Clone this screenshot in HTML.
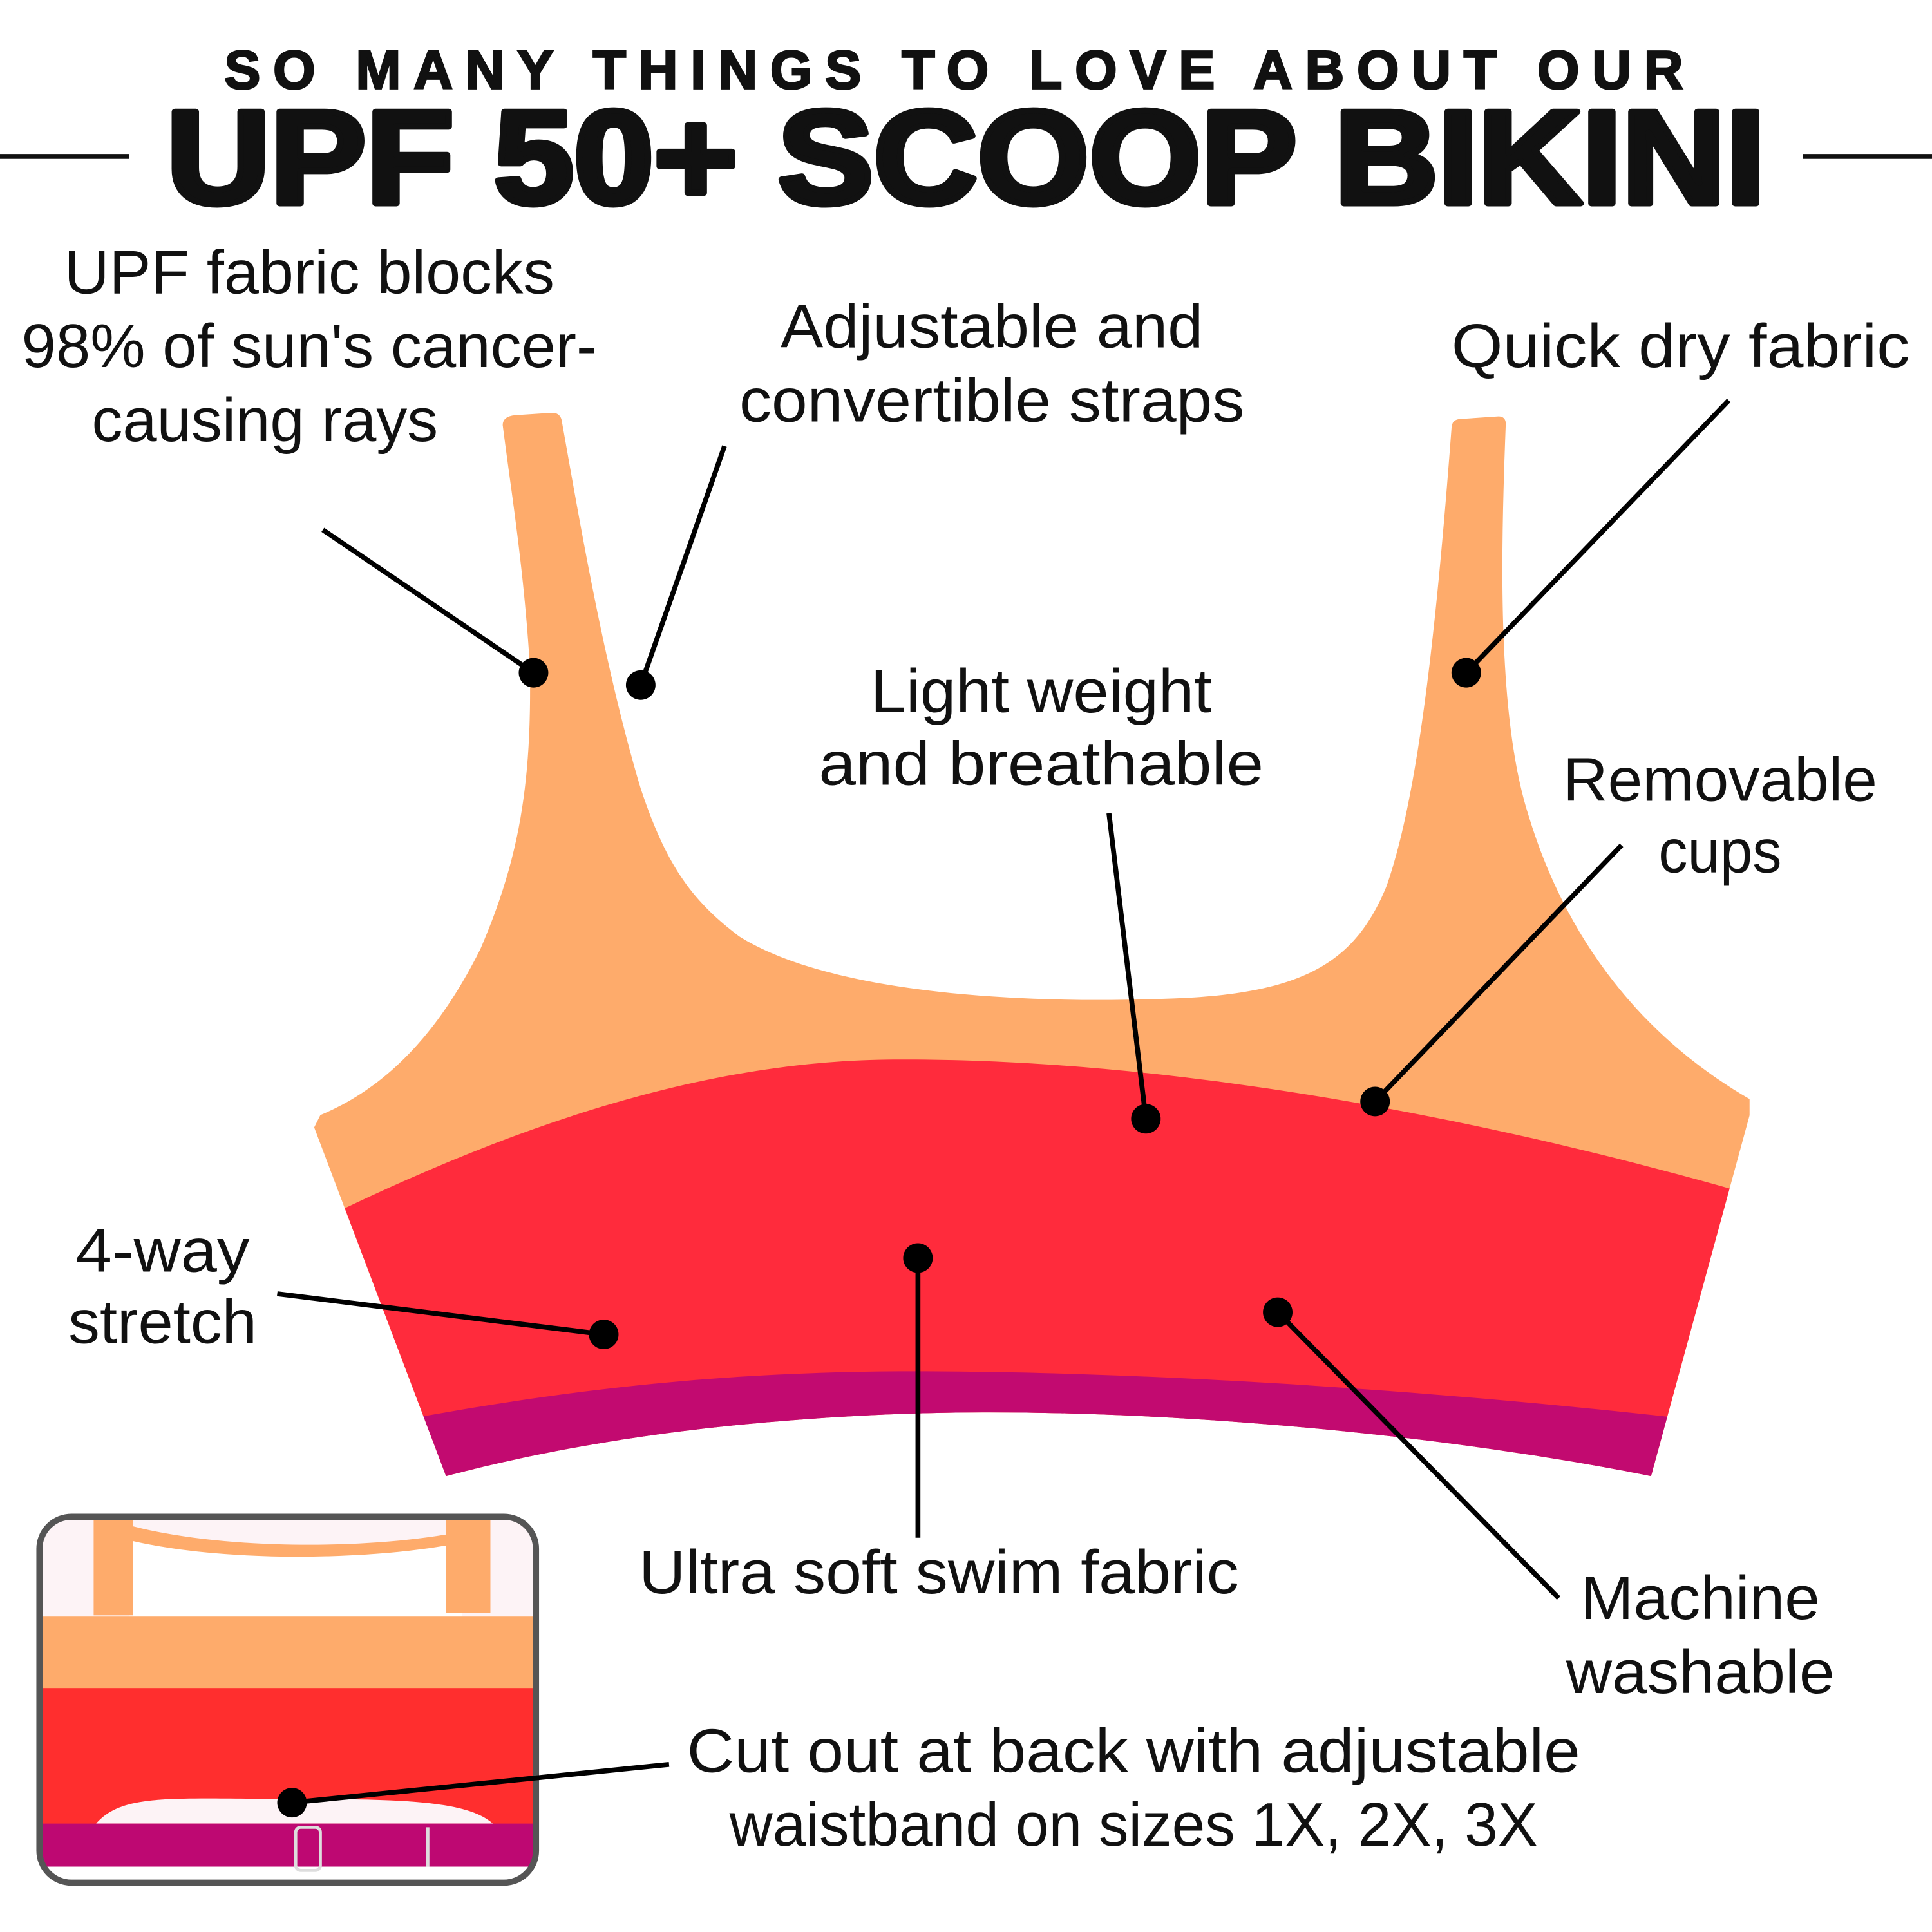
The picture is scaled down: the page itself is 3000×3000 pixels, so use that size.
<!DOCTYPE html>
<html><head><meta charset="utf-8"><style>
html,body{margin:0;padding:0;background:#fff;}
svg{display:block;}
.l{font-family:"Liberation Sans",sans-serif;font-size:50px;fill:#111;text-anchor:middle;}
</style></head><body>
<svg width="3000" height="3000" viewBox="0 0 1568 1568" xmlns="http://www.w3.org/2000/svg">
<rect width="1568" height="1568" fill="#fff"/>
<text x="774" y="72" font-family="Liberation Sans,sans-serif" font-weight="bold" font-size="44" text-anchor="middle" textLength="1184" lengthAdjust="spacing" fill="#111" stroke="#111" stroke-width="1.5">SO MANY THINGS TO LOVE ABOUT OUR</text>
<text x="784" y="165" font-family="Liberation Sans,sans-serif" font-weight="bold" font-size="108" text-anchor="middle" textLength="1298" lengthAdjust="spacingAndGlyphs" fill="#111" stroke="#111" stroke-width="5" stroke-linejoin="round">UPF 50+ SCOOP BIKINI</text>
<line x1="0" y1="127" x2="105" y2="127" stroke="#111" stroke-width="4"/>
<line x1="1463" y1="127" x2="1568" y2="127" stroke="#111" stroke-width="4"/>
<defs>
<clipPath id="bk"><path d="M408,345 Q408,338 418,337 L448,335 Q455,335 456,342 C470,420 490,540 520,640 C540,700 560,730 600,760 C680,810 850,815 960,810 C1060,805 1100,780 1125,720 C1150,650 1165,520 1178,348 Q1178,340 1186,340 L1216,338 Q1223,338 1222,346 C1218,450 1215,580 1240,660 C1270,760 1330,840 1420,892 L1420,905 L1340,1198 C1150,1160 900,1140 720,1148 C560,1155 450,1175 362,1198 L255,915 L260,905 C320,880 360,830 390,770 C420,700 432,640 430,540 C425,460 415,400 408,345 Z"/></clipPath>
<clipPath id="ins"><rect x="32" y="1231" width="403" height="297" rx="26"/></clipPath>
</defs>
<g clip-path="url(#bk)">
<rect x="0" y="300" width="1568" height="950" fill="#FEAB6B"/>
<path d="M240,1000 C400,920 560,862 720,860 C900,858 1150,890 1440,975 L1440,1250 L240,1250 Z" fill="#FF2B3C"/>
<path d="M240,1170 C450,1125 600,1112 760,1113 C950,1114 1200,1130 1440,1160 L1440,1250 L240,1250 Z" fill="#C20A70"/>
</g>
<g clip-path="url(#ins)">
<rect x="30" y="1229" width="410" height="305" fill="#fdf3f6"/>
<path d="M105,1242 C180,1262 300,1262 375,1250 L375,1320 L105,1320 Z" fill="#fff"/>
<path d="M105,1238 C180,1258 300,1258 375,1243 L375,1252 C300,1267 180,1268 105,1250 Z" fill="#FEAB6B"/>
<rect x="76" y="1231" width="32" height="80" fill="#FEAB6B"/>
<rect x="362" y="1231" width="36" height="78" fill="#FEAB6B"/>
<rect x="30" y="1312" width="410" height="60" fill="#FEAB6B"/>
<rect x="30" y="1370" width="410" height="112" fill="#FF2E2E"/>
<path d="M78,1480 C100,1455 140,1460 240,1460 C330,1460 380,1462 400,1480 Z" fill="#fdf3f6"/>
<rect x="30" y="1480" width="410" height="35" fill="#BE0872"/>
<rect x="30" y="1515" width="410" height="15" fill="#fff"/>
<rect x="240" y="1483" width="20" height="35" rx="4" fill="none" stroke="#ddd" stroke-width="2.5"/>
<line x1="347" y1="1483" x2="347" y2="1515" stroke="#ddd" stroke-width="3"/>
</g>
<rect x="32" y="1231" width="403" height="297" rx="26" fill="none" stroke="#555" stroke-width="5"/>
<g stroke="#000" stroke-width="4">
<line x1="262" y1="430" x2="433" y2="546"/>
<line x1="588" y1="362" x2="520" y2="556"/>
<line x1="1403" y1="325" x2="1190" y2="546"/>
<line x1="900" y1="660" x2="930" y2="908"/>
<line x1="1316" y1="686" x2="1116" y2="894"/>
<line x1="745" y1="1021" x2="745" y2="1248"/>
<line x1="225" y1="1050" x2="490" y2="1083"/>
<line x1="1037" y1="1065" x2="1265" y2="1297"/>
<line x1="543" y1="1432" x2="237" y2="1463"/>
</g>
<g fill="#000">
<circle cx="433" cy="546" r="12"/><circle cx="520" cy="556" r="12"/><circle cx="1190" cy="546" r="12"/>
<circle cx="930" cy="908" r="12"/><circle cx="1116" cy="894" r="12"/><circle cx="745" cy="1021" r="12"/>
<circle cx="490" cy="1083" r="12"/><circle cx="1037" cy="1065" r="12"/><circle cx="237" cy="1463" r="12"/>
</g>
<g class="l">
<text class="l" x="251" y="238" textLength="398" lengthAdjust="spacingAndGlyphs">UPF fabric blocks</text>
<text class="l" x="251" y="298" textLength="467" lengthAdjust="spacingAndGlyphs">98% of sun's cancer-</text>
<text class="l" x="215" y="358" textLength="281" lengthAdjust="spacingAndGlyphs">causing rays</text>
<text class="l" x="805" y="282" textLength="343" lengthAdjust="spacingAndGlyphs">Adjustable and</text>
<text class="l" x="805" y="342" textLength="410" lengthAdjust="spacingAndGlyphs">convertible straps</text>
<text class="l" x="1364" y="298" textLength="372" lengthAdjust="spacingAndGlyphs">Quick dry fabric</text>
<text class="l" x="845" y="578" textLength="277" lengthAdjust="spacingAndGlyphs">Light weight</text>
<text class="l" x="845" y="637" textLength="361" lengthAdjust="spacingAndGlyphs">and breathable</text>
<text class="l" x="1396" y="650" textLength="255" lengthAdjust="spacingAndGlyphs">Removable</text>
<text class="l" x="1396" y="708" textLength="100" lengthAdjust="spacingAndGlyphs">cups</text>
<text class="l" x="132" y="1032" textLength="141" lengthAdjust="spacingAndGlyphs">4-way</text>
<text class="l" x="132" y="1090" textLength="153" lengthAdjust="spacingAndGlyphs">stretch</text>
<text class="l" x="762" y="1293" textLength="487" lengthAdjust="spacingAndGlyphs">Ultra soft swim fabric</text>
<text class="l" x="1380" y="1314" textLength="194" lengthAdjust="spacingAndGlyphs">Machine</text>
<text class="l" x="1380" y="1374" textLength="218" lengthAdjust="spacingAndGlyphs">washable</text>
<text class="l" x="920" y="1438" textLength="725" lengthAdjust="spacingAndGlyphs">Cut out at back with adjustable</text>
<text class="l" x="920" y="1498" textLength="656" lengthAdjust="spacingAndGlyphs">waistband on sizes 1X, 2X, 3X</text>
</g>
</svg>
</body></html>
